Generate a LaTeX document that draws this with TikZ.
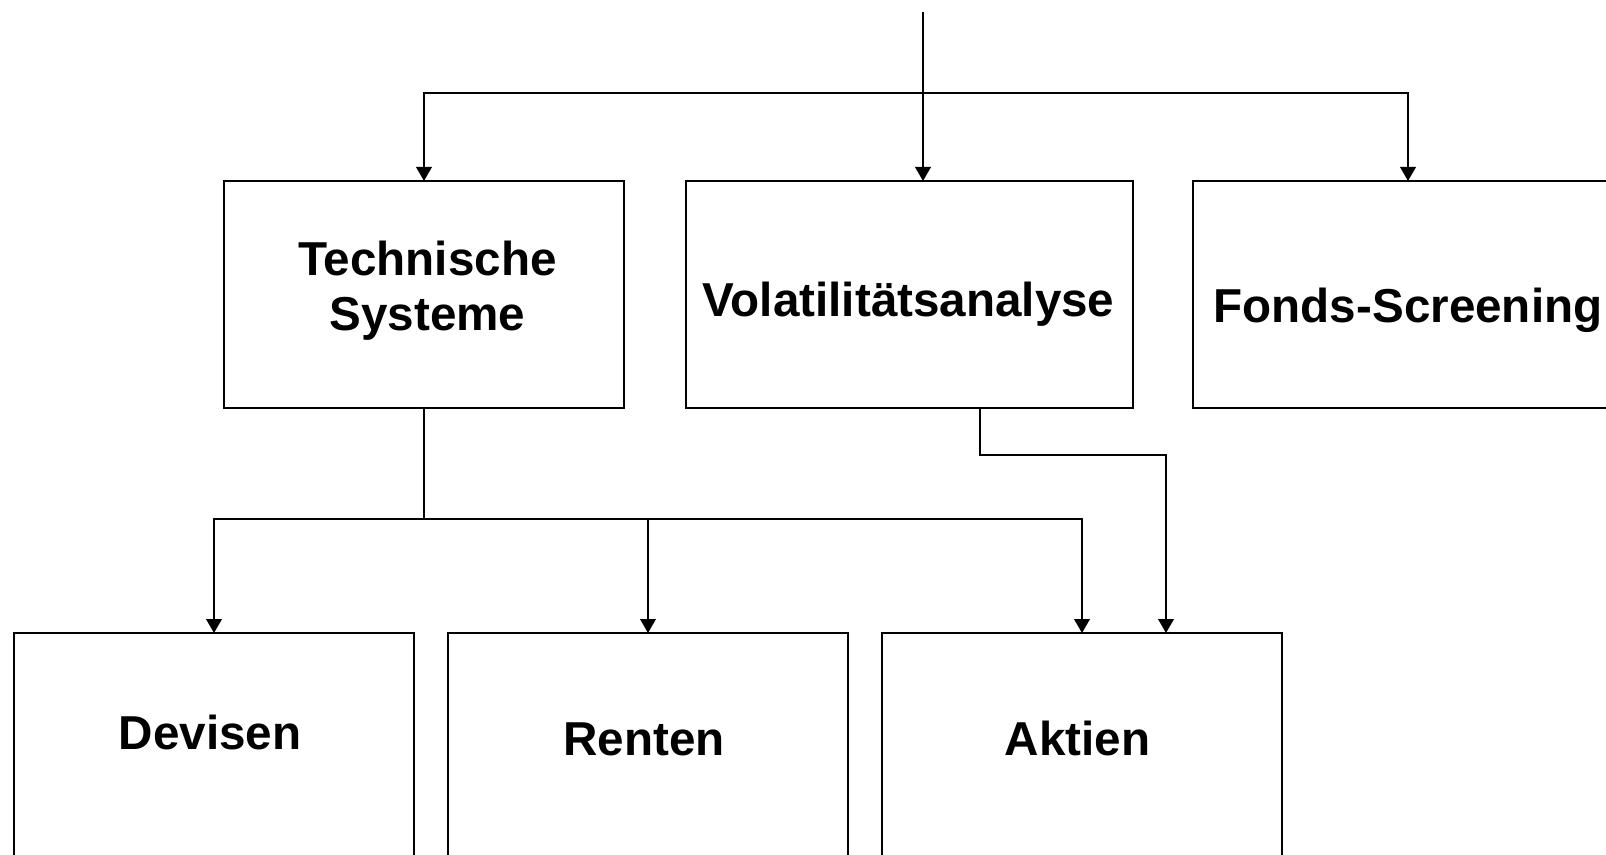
\documentclass[tikz,border=0pt]{standalone}
\usepackage{fontspec}
\setmainfont{Liberation Sans}
\usetikzlibrary{arrows.meta}

\begin{document}
\begin{tikzpicture}[x=0.5pt,y=-0.5pt,line width=1pt,
  box/.style={draw,rectangle,inner sep=0pt,outer sep=0pt,minimum width=200pt},
  boxtext/.style={anchor=base,align=center,inner sep=0pt,
    font=\bfseries\fontsize{23.8}{27.5}\selectfont},
  ->/.style={-{Triangle[length=7pt,width=7.8pt]}}]
\newcommand{\ytop}{294.5}
\newcommand{\ybot}{633}
\useasboundingbox (0,0) rectangle (1606,855);
\clip (0,0) rectangle (1606,855);

% upper row
\node[box,minimum height=113.5pt] (tech) at (424,\ytop) {};
\node[box,minimum height=113.5pt,minimum width=223.5pt] (vol) at (909.5,\ytop) {};
\node[box,minimum height=113.5pt,minimum width=215pt] (fonds) at (1408,\ytop) {};
\node[boxtext] (techtext) at (427.5,331) {Technische\\Systeme};
\node[boxtext] (voltext) at (908.5,317) {Volatilitätsanalyse};
\node[boxtext] (fondstext) at (1408,323) {Fonds-Screening};

% lower row
\node[box,anchor=north,minimum height=150pt] (dev) at (214,\ybot) {};
\node[box,anchor=north,minimum height=150pt] (ren) at (648,\ybot) {};
\node[box,anchor=north,minimum height=150pt] (akt) at (1082,\ybot) {};
\node[boxtext] (devtext) at (210,749) {Devisen};
\node[boxtext] (rentext) at (644,755) {Renten};
\node[boxtext] (akttext) at (1077.5,755) {Aktien};

% connectors
\coordinate (top) at (923,12);
\coordinate (split) at (923,93);
\coordinate (tsplit) at (424,519);
\draw[->] (top) -- (top |- vol.north);
\draw[->] (split) -| (tech.north);
\draw[->] (split) -| (fonds.north);
\draw (tech.south) -- (tsplit);
\draw[->] (tsplit) -| (dev.north);
\draw[->] (tsplit) -| (akt.north);
\draw[->] (ren.north |- tsplit) -- (ren.north);
\draw[->] ([xshift=35pt]vol.south) -- ++(0,47) -| ([xshift=42pt]akt.north);
\end{tikzpicture}
\end{document}
